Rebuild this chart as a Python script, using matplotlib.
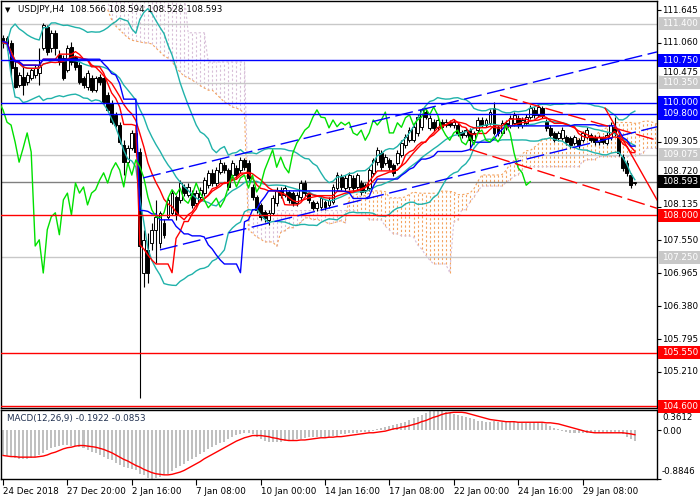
import numpy as np
import pandas as pd
import matplotlib
matplotlib.use("Agg")
import matplotlib.pyplot as plt
from matplotlib.transforms import blended_transform_factory
from matplotlib.patches import Rectangle

plt.rcParams['font.family'] = ['DejaVu Sans']

# ---------------- data (USDJPY H4) ----------------
opens = [111.15, 111.15, 111.06, 110.63, 110.31, 110.45, 110.36, 110.44, 110.49, 110.53,
         110.97, 111.34, 110.97, 111.24, 110.85, 110.79, 110.58, 110.99, 110.81, 110.67,
         110.44, 110.28, 110.44, 110.22, 110.45, 110.44, 110.13, 109.99, 109.78, 109.60,
         109.25, 108.94, 109.19, 109.46, 109.12, 106.97, 107.38, 107.50, 107.74, 107.50,
         107.86, 107.97, 108.04, 108.32, 108.27, 108.50, 108.36, 108.39, 108.21, 108.32,
         108.39, 108.53, 108.75, 108.57, 108.77, 108.89, 108.80, 108.71, 108.84, 108.80,
         108.98, 108.93, 108.50, 108.32, 108.18, 108.06, 107.91, 108.04, 108.21, 108.45,
         108.36, 108.41, 108.39, 108.21, 108.32, 108.57, 108.39, 108.23, 108.13, 108.14,
         108.23, 108.18, 108.23, 108.48, 108.68, 108.48, 108.50, 108.66, 108.50, 108.57,
         108.45, 108.48, 108.75, 108.94, 109.10, 108.93, 108.98, 108.89, 108.93, 109.07,
         109.25, 109.33, 109.33, 109.46, 109.57, 109.83, 109.55, 109.65, 109.57, 109.65,
         109.60, 109.65, 109.60, 109.60, 109.48, 109.42, 109.51, 109.33, 109.51, 109.69,
         109.60, 109.64, 109.90, 109.57, 109.46, 109.64, 109.60, 109.64, 109.73, 109.60,
         109.64, 109.74, 109.87, 109.78, 109.90, 109.65, 109.55, 109.46, 109.37, 109.37,
         109.39, 109.37, 109.28, 109.33, 109.33, 109.39, 109.42, 109.39, 109.30, 109.37,
         109.28, 109.39, 109.57, 109.42, 109.03, 108.93, 108.71, 108.566]
highs = [111.20, 111.18, 111.11, 110.76, 110.54, 110.67, 110.54, 110.61, 110.67, 110.97,
         111.41, 111.38, 111.29, 111.29, 110.93, 110.85, 111.02, 111.08, 110.85, 110.72,
         110.47, 110.58, 110.49, 110.47, 110.51, 110.47, 110.19, 110.04, 109.83, 109.65,
         109.33, 109.25, 109.51, 109.51, 109.20, 107.74, 107.68, 107.86, 108.27, 108.08,
         107.93, 108.32, 108.45, 108.36, 108.62, 108.55, 108.57, 108.45, 108.45, 108.50,
         108.68, 108.80, 108.82, 108.86, 109.00, 108.95, 108.84, 108.97, 108.89, 109.04,
         109.02, 108.98, 108.55, 108.36, 108.21, 108.09, 108.09, 108.36, 108.50, 108.50,
         108.54, 108.45, 108.43, 108.41, 108.62, 108.62, 108.43, 108.27, 108.25, 108.34,
         108.27, 108.32, 108.55, 108.77, 108.73, 108.71, 108.77, 108.71, 108.75, 108.62,
         108.57, 108.84, 109.02, 109.21, 109.16, 109.09, 109.02, 108.93, 109.16, 109.34,
         109.44, 109.56, 109.62, 109.79, 109.90, 109.88, 109.77, 109.70, 109.74, 109.70,
         109.70, 109.69, 109.70, 109.65, 109.52, 109.55, 109.55, 109.50, 109.74, 109.74,
         109.73, 109.88, 110.01, 109.60, 109.69, 109.69, 109.77, 109.83, 109.78, 109.74,
         109.79, 109.95, 109.92, 109.97, 109.94, 109.70, 109.60, 109.50, 109.50, 109.56,
         109.43, 109.41, 109.43, 109.37, 109.50, 109.56, 109.46, 109.43, 109.43, 109.41,
         109.47, 109.65, 109.74, 109.48, 109.08, 108.97, 108.75, 108.594]
lows = [110.97, 110.93, 110.45, 110.25, 110.28, 110.13, 110.31, 110.40, 110.44, 110.31,
        110.93, 110.85, 110.90, 110.85, 110.67, 110.40, 110.54, 110.67, 110.58, 110.33,
        110.26, 110.22, 110.19, 110.19, 110.31, 109.97, 109.83, 109.62, 109.57, 109.26,
        108.71, 108.89, 109.15, 109.05, 104.75, 106.72, 106.79, 107.38, 107.15, 107.42,
        107.60, 107.93, 108.00, 107.91, 108.22, 108.34, 108.32, 108.12, 108.16, 108.27,
        108.34, 108.48, 108.52, 108.52, 108.73, 108.75, 108.45, 108.66, 108.66, 108.75,
        108.80, 108.60, 108.27, 108.04, 107.91, 107.88, 107.82, 108.00, 108.16, 108.30,
        108.32, 108.21, 108.16, 108.16, 108.27, 108.34, 108.21, 108.09, 108.07, 108.09,
        108.09, 108.13, 108.20, 108.43, 108.45, 108.43, 108.45, 108.43, 108.45, 108.36,
        108.39, 108.43, 108.71, 108.89, 108.80, 108.89, 108.80, 108.69, 108.89, 109.03,
        109.20, 109.29, 109.29, 109.41, 109.52, 109.70, 109.51, 109.50, 109.52, 109.53,
        109.56, 109.56, 109.55, 109.41, 109.37, 109.38, 109.16, 109.29, 109.46, 109.56,
        109.56, 109.60, 109.42, 109.40, 109.42, 109.51, 109.55, 109.58, 109.55, 109.55,
        109.60, 109.70, 109.73, 109.74, 109.73, 109.50, 109.38, 109.29, 109.32, 109.33,
        109.25, 109.20, 109.24, 109.20, 109.29, 109.35, 109.29, 109.25, 109.25, 109.26,
        109.24, 109.34, 109.41, 109.05, 108.79, 108.70, 108.48, 108.528]
closes = [111.06, 111.04, 110.61, 110.28, 110.49, 110.31, 110.49, 110.58, 110.61, 110.67,
          111.38, 110.90, 111.24, 110.97, 110.72, 110.44, 110.97, 110.72, 110.63, 110.37,
          110.31, 110.53, 110.22, 110.44, 110.37, 110.01, 109.87, 109.65, 109.60, 109.30,
          108.94, 109.19, 109.46, 109.12, 107.45, 107.56, 106.97, 107.74, 107.97, 108.04,
          107.65, 108.27, 108.39, 108.00, 108.57, 108.39, 108.50, 108.18, 108.39, 108.45,
          108.62, 108.75, 108.57, 108.80, 108.93, 108.80, 108.50, 108.93, 108.71, 108.98,
          108.86, 108.66, 108.32, 108.09, 107.97, 107.95, 108.04, 108.30, 108.45, 108.36,
          108.48, 108.27, 108.21, 108.36, 108.57, 108.39, 108.27, 108.13, 108.21, 108.30,
          108.14, 108.27, 108.50, 108.71, 108.50, 108.66, 108.71, 108.48, 108.71, 108.41,
          108.53, 108.80, 108.98, 109.16, 108.85, 109.03, 108.85, 108.75, 109.10, 109.28,
          109.39, 109.51, 109.57, 109.74, 109.87, 109.74, 109.73, 109.55, 109.69, 109.57,
          109.65, 109.60, 109.65, 109.46, 109.42, 109.51, 109.33, 109.46, 109.69, 109.60,
          109.69, 109.83, 109.46, 109.46, 109.64, 109.56, 109.73, 109.78, 109.60, 109.69,
          109.74, 109.90, 109.78, 109.92, 109.78, 109.55, 109.42, 109.33, 109.46, 109.51,
          109.30, 109.25, 109.39, 109.25, 109.46, 109.51, 109.33, 109.30, 109.39, 109.30,
          109.42, 109.60, 109.46, 109.10, 108.84, 108.75, 108.53, 108.593]

# Ichimoku cloud at the left edge, where the chart has no earlier history
cloud_early_bars = list(range(26, 61))
senkou_a_early = [111.65, 111.47, 111.36, 111.29, 111.22, 111.15, 111.11, 111.09, 111.08, 111.06,
                  111.06, 111.04, 110.97, 110.90, 110.83, 110.79, 110.72, 110.63, 110.54, 110.47,
                  110.44, 110.40, 110.35, 110.30, 110.26, 110.22, 110.22, 110.15, 110.08, 110.01,
                  109.97, 109.92, 109.90, 109.87, 109.80]
senkou_b_early = [111.95] * 20 + [111.24] * 5 + [110.72] * 10

macd_main = [-0.46, -0.47, -0.49, -0.51, -0.52, -0.52, -0.52, -0.51, -0.49, -0.45,
             -0.41, -0.37, -0.33, -0.30, -0.28, -0.27, -0.27, -0.28, -0.29, -0.31,
             -0.33, -0.36, -0.39, -0.42, -0.46, -0.49, -0.52, -0.55, -0.59, -0.63,
             -0.66, -0.68, -0.70, -0.72, -0.79, -0.82, -0.86, -0.88, -0.87, -0.85,
             -0.82, -0.79, -0.74, -0.69, -0.65, -0.61, -0.56, -0.52, -0.48, -0.44,
             -0.40, -0.35, -0.31, -0.27, -0.24, -0.21, -0.16, -0.12, -0.09, -0.07,
             -0.06, -0.06, -0.07, -0.12, -0.16, -0.19, -0.21, -0.22, -0.22, -0.21,
             -0.20, -0.19, -0.18, -0.17, -0.16, -0.14, -0.13, -0.13, -0.12, -0.13,
             -0.13, -0.12, -0.11, -0.10, -0.08, -0.07, -0.06, -0.05, -0.05, -0.04,
             -0.04, -0.03, -0.02, 0.01, 0.04, 0.06, 0.08, 0.09, 0.10, 0.12,
             0.15, 0.18, 0.21, 0.24, 0.27, 0.31, 0.34, 0.36, 0.36, 0.35,
             0.33, 0.31, 0.29, 0.27, 0.25, 0.23, 0.21, 0.19, 0.17, 0.16,
             0.15, 0.15, 0.16, 0.15, 0.14, 0.14, 0.14, 0.14, 0.14, 0.13,
             0.13, 0.13, 0.14, 0.14, 0.13, 0.10, 0.07, 0.04, 0.01, -0.02,
             -0.04, -0.05, -0.06, -0.06, -0.06, -0.05, -0.05, -0.05, -0.05, -0.05,
             -0.05, -0.05, -0.04, -0.05, -0.08, -0.12, -0.16, -0.19]
macd_signal = [-0.46, -0.47, -0.48, -0.48, -0.49, -0.49, -0.49, -0.49, -0.49, -0.48,
               -0.47, -0.45, -0.42, -0.40, -0.37, -0.34, -0.32, -0.31, -0.29, -0.28,
               -0.28, -0.29, -0.30, -0.31, -0.33, -0.35, -0.38, -0.41, -0.45, -0.49,
               -0.53, -0.56, -0.60, -0.64, -0.67, -0.71, -0.74, -0.77, -0.79, -0.80,
               -0.81, -0.81, -0.80, -0.78, -0.76, -0.73, -0.69, -0.65, -0.61, -0.57,
               -0.52, -0.48, -0.44, -0.40, -0.36, -0.32, -0.28, -0.24, -0.20, -0.17,
               -0.14, -0.12, -0.10, -0.10, -0.10, -0.11, -0.12, -0.14, -0.15, -0.17,
               -0.18, -0.19, -0.19, -0.19, -0.18, -0.18, -0.17, -0.16, -0.15, -0.14,
               -0.14, -0.13, -0.13, -0.12, -0.12, -0.11, -0.10, -0.09, -0.08, -0.07,
               -0.06, -0.05, -0.05, -0.04, -0.03, -0.02, 0.00, 0.02, 0.03, 0.05,
               0.06, 0.08, 0.10, 0.12, 0.15, 0.17, 0.20, 0.23, 0.25, 0.28,
               0.30, 0.31, 0.32, 0.32, 0.32, 0.31, 0.29, 0.27, 0.25, 0.23,
               0.21, 0.19, 0.18, 0.17, 0.16, 0.15, 0.15, 0.15, 0.14, 0.14,
               0.14, 0.14, 0.14, 0.14, 0.14, 0.13, 0.13, 0.12, 0.11, 0.09,
               0.07, 0.05, 0.03, 0.01, -0.01, -0.03, -0.04, -0.05, -0.05, -0.05,
               -0.05, -0.05, -0.05, -0.05, -0.05, -0.06, -0.07, -0.085]

date_labels = ['24 Dec 2018', '27 Dec 20:00', '2 Jan 16:00', '7 Jan 08:00', '10 Jan 00:00',
               '14 Jan 16:00', '17 Jan 08:00', '22 Jan 00:00', '24 Jan 16:00', '29 Jan 08:00']
date_label_bars = [0, 16, 32, 48, 64, 80, 96, 112, 128, 144]

price_ticks = [111.645, 111.060, 110.475, 109.890, 109.305, 108.720, 108.135,
               107.550, 106.965, 106.380, 105.795, 105.210, 104.625]
hidden_ticks = [109.890, 104.625]          # fully covered by level labels in the chart
blue_levels = [110.750, 110.000, 109.800]
red_levels = [108.000, 105.550, 104.600]
gray_levels = [111.400, 110.350, 109.075, 107.250]
last_price = 108.593

# analyst trend lines (bar index, price)
blue_upper_bars, blue_upper_prices = [34.8, 162.5], [108.66, 110.90]
blue_lower_bars, blue_lower_prices = [39.0, 162.5], [107.38, 109.57]
red_dash1_bars, red_dash1_prices = [123.5, 162.5], [110.13, 109.33]
red_dash2_bars, red_dash2_prices = [116.0, 162.5], [109.17, 108.12]
red_solid_bars, red_solid_prices = [149.6, 162.5], [109.90, 108.27]

BB_PERIOD = 20
MA_PERIOD = 12

# ---------------- figure ----------------
W, H = 700, 500
fig = plt.figure(figsize=(7, 5), dpi=100)
fig.patch.set_facecolor('white')

def fx(px):
    return px / W

def fy(py):
    return 1 - py / H

ax = fig.add_axes([fx(1), fy(408), fx(657) - fx(1), fy(1) - fy(408)])
ax2 = fig.add_axes([fx(1), fy(479), fx(657) - fx(1), fy(410) - fy(479)])

YMIN, YMAX = 104.570, 111.805
XMIN, XMAX = -0.5, 162.5
PX = (YMAX - YMIN) / 407.0   # price per pixel

df = pd.DataFrame({'o': opens, 'h': highs, 'l': lows, 'c': closes})
n = len(df)
x = np.arange(n)
O = df.o.values; Hh = df.h.values; L = df.l.values; C = df.c.values

# indicators
mid = df.c.rolling(BB_PERIOD, min_periods=1).mean()
sd = df.c.rolling(BB_PERIOD, min_periods=1).std(ddof=0).fillna(0)
bb_up = mid + 2 * sd
bb_dn = mid - 2 * sd
ma = df.c.rolling(MA_PERIOD, min_periods=1).mean()

def hh(k):
    return df.h.rolling(k, min_periods=1).max()

def ll(k):
    return df.l.rolling(k, min_periods=1).min()

tenkan = (hh(9) + ll(9)) / 2
kijun = (hh(26) + ll(26)) / 2
spanA = ((tenkan + kijun) / 2).values.copy()
spanB = ((hh(52) + ll(52)) / 2).values.copy()
xs = x + 26
for j, a, b in zip(cloud_early_bars, senkou_a_early, senkou_b_early):
    spanA[j - 26] = a
    spanB[j - 26] = b

# cloud
orx, orlo, orhi, thx, thlo, thhi = [], [], [], [], [], []
for xi, a, b in zip(xs, spanA, spanB):
    if a >= b:
        orx.append(xi); orlo.append(b); orhi.append(a)
    else:
        thx.append(xi); thlo.append(a); thhi.append(b)
ax.vlines(orx, orlo, orhi, colors='#F4A460', linestyles=(0, (2, 2)), lw=0.8, zorder=1)
ax.vlines(thx, thlo, thhi, colors='#D8BFD8', linestyles=(0, (2, 2)), lw=0.8, zorder=1)
ax.plot(xs, spanA, color='#F4A460', lw=0.8, ls=(0, (2, 2)), zorder=1)
ax.plot(xs, spanB, color='#D8BFD8', lw=0.8, ls=(0, (2, 2)), zorder=1)

# horizontal levels
for lv in gray_levels:
    ax.axhline(lv, color='#C8C8C8', lw=1.0, zorder=2)
ax.axhline(last_price, color='#808080', lw=1.0, zorder=2)

# candles
upm = C >= O
ax.vlines(x, L, Hh, color='black', lw=0.8, zorder=3)
ax.bar(x[upm], (C - O)[upm], bottom=O[upm], width=0.72, facecolor='white',
       edgecolor='black', lw=0.7, zorder=3.1)
ax.bar(x[~upm], (O - C)[~upm], bottom=C[~upm], width=0.72, facecolor='black',
       edgecolor='black', lw=0.7, zorder=3.1)

# indicator lines
teal = '#20B2AA'
ax.plot(x, bb_up, color=teal, lw=1.0, zorder=4)
ax.plot(x, mid, color=teal, lw=1.0, zorder=4)
ax.plot(x, bb_dn, color=teal, lw=1.0, zorder=4)
ax.plot(x, ma, color='red', lw=1.0, zorder=4)
ax.plot(x, tenkan, color='red', lw=1.0, zorder=4)
ax.plot(x, kijun, color='blue', lw=1.0, zorder=4)
ax.plot(x - 26, C, color='#00E000', lw=1.0, zorder=4)

for lv in blue_levels:
    ax.axhline(lv, color='blue', lw=1.0, zorder=5)
for lv in red_levels:
    ax.axhline(lv, color='red', lw=1.0, zorder=5)

dash = (0, (13, 4))
ax.plot(blue_upper_bars, blue_upper_prices, color='blue', lw=1.0, ls=dash, zorder=5)
ax.plot(blue_lower_bars, blue_lower_prices, color='blue', lw=1.0, ls=dash, zorder=5)
ax.plot(red_dash1_bars, red_dash1_prices, color='red', lw=1.0, ls=dash, zorder=5)
ax.plot(red_dash2_bars, red_dash2_prices, color='red', lw=1.0, ls=dash, zorder=5)
ax.plot(red_solid_bars, red_solid_prices, color='red', lw=1.0, zorder=5)

ax.set_xlim(XMIN, XMAX)
ax.set_ylim(YMIN, YMAX)
ax.set_xticks([])
ax.yaxis.tick_right()
ax.set_yticks(price_ticks)
ax.set_yticklabels([])
ax.tick_params(axis='y', length=3, width=0.8, colors='black')
for s in ax.spines.values():
    s.set_linewidth(1.0)
    s.set_color('black')

tr = blended_transform_factory(fig.transFigure, ax.transData)

# price scale labels (nudged slightly where a level label sits just below)
level_vals = gray_levels + blue_levels + red_levels + [last_price]
for t in price_ticks:
    if t in hidden_ticks:
        continue
    yv = t
    for lv in level_vals:
        if 0 < t - lv < 12 * PX:
            yv = t + 3 * PX
    fig.text(fx(662), yv, f'{t:.3f}', transform=tr, color='black', fontsize=6.3,
             va='center', ha='left', zorder=3)

box_h = 13 * PX

def level_label(val, fc, tc='white'):
    fig.add_artist(Rectangle((fx(658), val - box_h / 2), 1 - fx(658), box_h, transform=tr,
                             facecolor=fc, edgecolor='none', zorder=10))
    fig.text(fx(662), val, f'{val:.3f}', transform=tr, color=tc, fontsize=6.3,
             va='center', ha='left', zorder=11)

for lv in gray_levels:
    level_label(lv, '#C8C8C8')
for lv in blue_levels:
    level_label(lv, '#0000FF')
for lv in red_levels:
    level_label(lv, '#FF0000')
level_label(last_price, 'black')

# header
fig.text(fx(5), fy(10), '\u25BC', fontsize=5, va='center', ha='left', color='black')
fig.text(fx(18), fy(10), 'USDJPY,H4  108.566 108.594 108.528 108.593', fontsize=6.3,
         va='center', ha='left', color='black')

# MACD pane
ax2.bar(x, macd_main, width=0.5, color='#C0C0C0', zorder=2)
ax2.plot(x, macd_signal, color='red', lw=1.0, zorder=3)
ax2.set_xlim(XMIN, XMAX)
ax2.set_ylim(-0.8846, 0.3612)
ax2.yaxis.tick_right()
ax2.set_yticks([0.3612, 0.0, -0.8846])
ax2.set_yticklabels([])
ax2.tick_params(axis='y', length=3, width=0.8)
fig.text(fx(662), fy(418), '0.3612', fontsize=6.3, va='center', ha='left')
fig.text(fx(662), fy(432), '0.00', fontsize=6.3, va='center', ha='left')
fig.text(fx(662), fy(472), '-0.8846', fontsize=6.3, va='center', ha='left')
ax2.set_xticks(date_label_bars)
ax2.set_xticklabels(date_labels, ha='left')
ax2.tick_params(axis='x', length=4, width=0.8, pad=2, labelsize=6.3)
for s in ax2.spines.values():
    s.set_linewidth(1.0)
    s.set_color('black')
fig.text(fx(7), fy(419), 'MACD(12,26,9) -0.1922 -0.0853', fontsize=6.3, va='center',
         ha='left', color='#203050')

fig.savefig('out.png', dpi=100, facecolor='white')
